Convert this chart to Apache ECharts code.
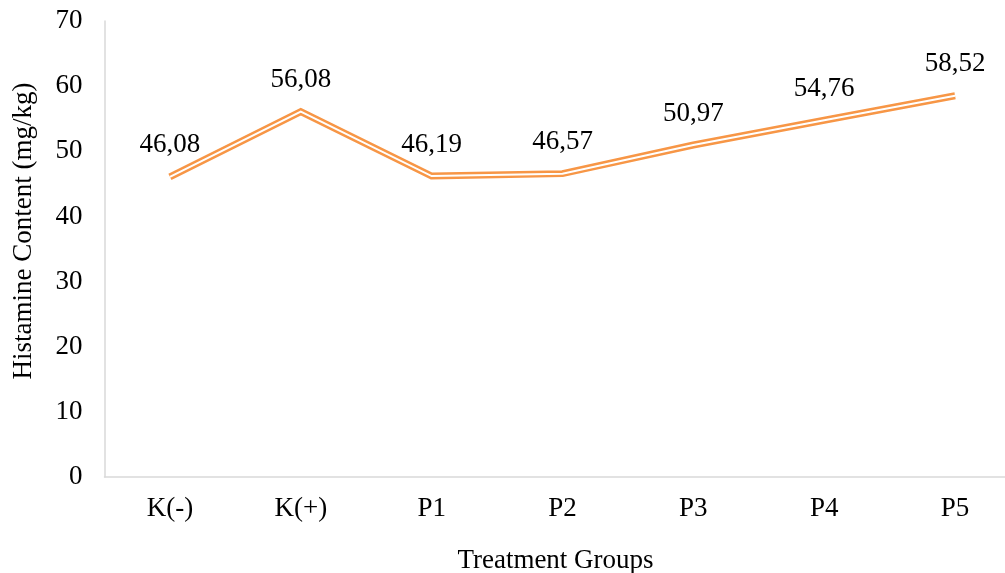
<!DOCTYPE html>
<html>
<head>
<meta charset="utf-8">
<script src="https://cdn.jsdelivr.net/npm/echarts@6/dist/echarts.min.js"></script>
<style>
html,body{margin:0;padding:0;background:#fff;}
#chart{width:1005px;height:573px;}
</style>
</head>
<body>
<div id="chart"></div>
<script>
const categories = ['K(-)', 'K(+)', 'P1', 'P2', 'P3', 'P4', 'P5'];
const histamine = [46.08, 56.08, 46.19, 46.57, 50.97, 54.76, 58.52];
const yTicks = [0, 10, 20, 30, 40, 50, 60, 70];

const FONT = '"Liberation Serif", "Times New Roman", serif';
const FS = 27;
const chart = echarts.init(document.getElementById('chart'));
chart.setOption({
  animation: false,
  backgroundColor: '#fff',
  grid: { left: 104.5, top: 21, width: 916, height: 456, containLabel: false, outerBoundsMode: 'none' },
  xAxis: {
    type: 'category',
    data: categories,
    boundaryGap: true,
    name: 'Treatment Groups',
    nameLocation: 'middle',
    nameGap: 70,
    nameTextStyle: { fontFamily: FONT, fontSize: FS, color: '#000', padding: [0, 14, 0, 0] },
    axisLine: { lineStyle: { color: '#d9d9d9', width: 1.5 } },
    axisTick: { show: false },
    axisLabel: { fontFamily: FONT, fontSize: FS, color: '#000', margin: 18 },
    splitLine: { show: false }
  },
  yAxis: {
    type: 'value',
    min: yTicks[0],
    max: yTicks[yTicks.length - 1],
    interval: 10,
    name: 'Histamine Content (mg/kg)',
    nameLocation: 'middle',
    nameRotate: 90,
    nameGap: 67,
    nameTextStyle: { fontFamily: FONT, fontSize: FS, color: '#000', padding: [0, 0, 0, 36] },
    axisLine: { show: true, lineStyle: { color: '#d9d9d9', width: 1.5 } },
    axisTick: { show: false },
    axisLabel: { fontFamily: FONT, fontSize: FS, color: '#000', margin: 22 },
    splitLine: { show: false }
  },
  series: [
    {
      type: 'line',
      data: histamine,
      symbol: 'circle',
      symbolSize: 2,
      itemStyle: { color: 'rgba(0,0,0,0)' },
      lineStyle: { color: '#F79646', width: 7, cap: 'butt', join: 'miter' },
      label: {
        show: true,
        position: 'top',
        distance: 17,
        fontFamily: FONT,
        fontSize: FS,
        color: '#000',
        formatter: p => p.value.toFixed(2).replace('.', ',')
      },
      emphasis: { disabled: true },
      z: 2
    },
    {
      type: 'line',
      data: histamine,
      symbol: 'none',
      lineStyle: { color: '#ffffff', width: 2, cap: 'butt', join: 'miter' },
      emphasis: { disabled: true },
      silent: true,
      z: 3
    }
  ]
});
</script>
</body>
</html>
